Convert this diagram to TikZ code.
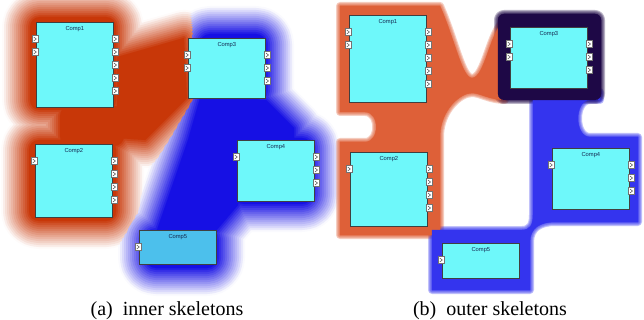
\documentclass[tikz,border=0pt]{standalone}
\usepackage{fontspec}
\setmainfont{Liberation Serif}
\setsansfont{Liberation Sans}
\usepackage{tikz}
\usetikzlibrary{positioning, calc}
\definecolor{compcyan}{RGB}{110,248,250}
\definecolor{compblue}{RGB}{76,192,236}
\definecolor{labelblue}{RGB}{20,40,80}
\definecolor{redA}{RGB}{200,55,8}
\definecolor{blueA}{RGB}{22,16,228}
\definecolor{orangeB}{RGB}{222,96,56}
\definecolor{blueB}{RGB}{52,52,238}
\definecolor{darkB}{RGB}{30,8,70}
\tikzset{comp/.style = {
  % Rectangle:
  rectangle, anchor=north west,
  draw=black!75, line width=0.7pt,
  fill=compcyan,
  minimum width=77pt, inner sep=0pt,
  % Text
  text height=8.5pt,
  font=\sffamily\fontsize{5.8}{6}\selectfont,
  text=labelblue
  }}
\tikzset{port/.style = {
  rectangle,
  draw=black!55, fill=white, line width=0.4pt,
  minimum width=6pt, minimum height=7pt, inner sep=0pt,
  path picture={\draw[black!70, line width=0.5pt]
    ([xshift=-1.3pt,yshift=2pt]path picture bounding box.center) --
    ([xshift=1.3pt]path picture bounding box.center) --
    ([xshift=-1.3pt,yshift=-2pt]path picture bounding box.center);}
  }}
\tikzset{caption/.style = {anchor=base, font=\fontsize{20}{22}\selectfont}}
\tikzset{blob/.style = {line join=round}}

\begin{document}
\begin{tikzpicture}[x=1pt, y=-1pt]
% LAYERS
\pgfdeclarelayer{bg}
\pgfsetlayers{bg,main}
\useasboundingbox (0,0) rectangle (644,320);

% NODES
\node (comp1a) [comp, text depth=76.5pt] at (36,22) {Comp1};
\node (comp2a) [comp, text depth=64.5pt] at (35,144) {Comp2};
\node (comp3a) [comp, text depth=51.5pt] at (188,38) {Comp3};
\node (comp4a) [comp, text depth=52.5pt] at (237,140) {Comp4};
\node (comp5a) [comp, text depth=25.5pt, fill=compblue] at (139,230) {Comp5};

\node (comp1b) [comp, text depth=78.5pt] at (349,15) {Comp1};
\node (comp2b) [comp, text depth=65.5pt] at (350,152) {Comp2};
\node (comp3b) [comp, text depth=52.5pt] at (510,27) {Comp3};
\node (comp4b) [comp, text depth=52.5pt] at (552,148) {Comp4};
\node (comp5b) [comp, text depth=26.5pt] at (442,243) {Comp5};

% ports
\foreach \c/\n in {comp1a/2, comp2a/1, comp3a/2, comp4a/1, comp5a/1,
                   comp1b/2, comp2b/1, comp3b/2, comp4b/1, comp5b/1}
  \foreach \k in {1,...,\n}
    \node (\c-in\k) [port] at ([xshift=-1pt, yshift={-(4+13*\k)*1pt}]\c.north west) {};
\foreach \c/\n in {comp1a/5, comp2a/4, comp3a/3, comp4a/3,
                   comp1b/5, comp2b/4, comp3b/3, comp4b/3}
  \foreach \k in {1,...,\n}
    \node (\c-out\k) [port] at ([xshift=1.5pt, yshift={-(4+13*\k)*1pt}]\c.north east) {};

% captions
\node (capa) [caption] at (167,315.5) {(a)\hspace{0.5em}inner skeletons};
\node (capb) [caption] at (490,315.5) {(b)\hspace{0.5em}outer skeletons};

% SKELETONS
\begin{pgfonlayer}{bg}
% inner
\foreach \w/\t in {56/2,52/9,48/16,44/23,40/30,36/37,32/44,28/51,24/58,20/65,16/72,12/79,8/86,4/93,0.1/100} {
  \filldraw[blob, redA!\t!white, line width=\w pt, rounded corners=10pt]
    (30,17) rectangle (116,110) (29,140) rectangle (116,221) (60,106) rectangle (124,146);
  \filldraw[blob, redA!\t!white, line width=\w pt]
    (117,57) -- (184,38) -- (187,98) -- (145,140) -- (117,138) -- cycle;
  \filldraw[blob, blueA!\t!white, line width=\w pt, rounded corners=10pt]
    (200,34) rectangle (266,100) (234,138) rectangle (312,204) (146,230) rectangle (217,268);
  \filldraw[blob, blueA!\t!white, line width=\w pt]
    (200,98) -- (255,98) -- (238,205) -- (215,232) -- (157,230) -- (188,140) -- cycle
    (232,100) -- (266,100) -- (294,128) -- (294,140) -- (240,140) -- cycle;
}
% outer
\foreach \w/\o in {8/0.3,6/0.3,4/0.3,2/0.3,0.1/1} {
  \filldraw[blob, orangeB, opacity=\o, line width=\w pt]
    (340,6) -- (440,6) .. controls (455,40) and (462,78) .. (472,78)
    .. controls (485,78) and (490,30) .. (505,20) -- (505,100)
    .. controls (490,100) and (480,93) .. (472,93)
    .. controls (460,93) and (441,110) .. (440,135) -- (440,235) -- (340,235)
    -- (340,142) -- (365,142) .. controls (380,142) and (380,112) .. (365,112)
    -- (340,112) -- cycle;
  \filldraw[blob, blueB, opacity=\o, line width=\w pt]
    (533,92) -- (600,92) -- (600,100) -- (590,100)
    .. controls (574,100) and (574,137) .. (590,137) -- (638,137) -- (638,222)
    -- (555,222) .. controls (540,222) and (530,228) .. (530,242) -- (530,290)
    -- (432,290) -- (432,230) -- (522,230) .. controls (530,230) and (533,225) .. (533,215)
    -- cycle;
  \filldraw[blob, darkB, opacity=\o, line width=\w pt, rounded corners=6pt]
    (498,14) rectangle (601,100);
}
\end{pgfonlayer}
\end{tikzpicture}
\end{document}
